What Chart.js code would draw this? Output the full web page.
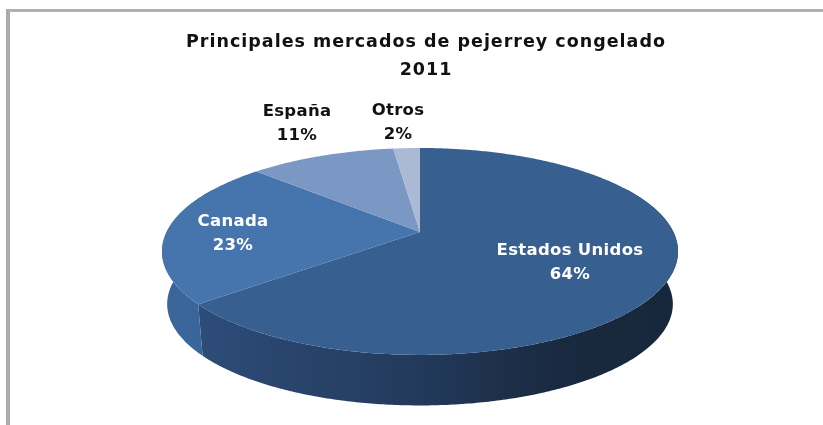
<!DOCTYPE html>
<html>
<head>
<meta charset="utf-8">
<script src="https://cdn.jsdelivr.net/npm/chart.js@4"></script>
<style>
  html, body { margin: 0; padding: 0; background: #fff; overflow: hidden; }
  #frame { position: absolute; left: 6px; top: 9px; right: 0; bottom: 0; border-left: 4px solid #ababab; border-top: 3px solid #b0b0b0; }
  #c { position: absolute; left: 0; top: 0; filter: blur(0.4px); }
</style>
</head>
<body>
<div id="frame"></div>
<canvas id="c" width="823" height="425"></canvas>
<script>
const titleLines = ['Principales mercados de pejerrey congelado', '2011'];
const categories = ['Estados Unidos', 'Canada', 'España', 'Otros'];
const shares = [64, 23, 11, 2];
const sliceColors = ['#375f8f', '#4674ad', '#7b97c3', '#abb9d5'];

// tilted disc: apex sits above the middle of the ellipse, like the excel 3d pie
const apexX = 420, apexY = 232, spanX = 253.4, spanY = 99.8, tilt = 0.188;
const depth = 53, lowerScale = 0.98;

// label centres, dark labels sit outside the pie
const labelSpots = [
    { x: 570, y: 251, color: '#fff' },
    { x: 233, y: 222, color: '#fff' },
    { x: 297, y: 112, color: '#111' },
    { x: 398, y: 111, color: '#111' }
];

function project(theta, lower) {
    const u = Math.sin(theta), v = -Math.cos(theta);
    const w = 1 - tilt * v;
    const x = spanX * u / w, y = spanY * v / w;
    if (!lower) return { x: apexX + x, y: apexY + y };
    return { x: apexX + x * lowerScale, y: apexY + y * lowerScale + depth };
}

function traceRim(ctx, from, to, lower) {
    const steps = Math.max(2, Math.ceil(Math.abs(to - from) / 0.01));
    for (let i = 0; i <= steps; i++) {
        const p = project(from + (to - from) * i / steps, lower);
        ctx.lineTo(p.x, p.y);
    }
}

function fillSide(ctx, from, to, fill) {
    ctx.beginPath();
    traceRim(ctx, from, to, false);
    traceRim(ctx, to, from, true);
    ctx.closePath();
    ctx.fillStyle = fill;
    ctx.fill();
}

const pie3d = {
    id: 'pie3d',
    beforeDraw(chart) {
        // the original text is stretched wide
        chart.ctx.letterSpacing = '1px';
    },
    beforeDatasetDraw(chart) {
        const ctx = chart.ctx;
        const arcs = chart.getDatasetMeta(0).data;
        const toTheta = a => a + Math.PI / 2;

        // side wall first, the top face covers what sticks out
        const usEnd = toTheta(arcs[0].endAngle);
        const usSide = ctx.createLinearGradient(200, 0, 676, 0);
        usSide.addColorStop(0, '#2d4c78');
        usSide.addColorStop(0.45, '#233a5c');
        usSide.addColorStop(0.75, '#192a40');
        usSide.addColorStop(1, '#17273b');
        fillSide(ctx, Math.PI * 0.35, usEnd, usSide);
        const caSide = ctx.createLinearGradient(163, 0, 203, 0);
        caSide.addColorStop(0, '#3b6699');
        caSide.addColorStop(1, '#3a659b');
        fillSide(ctx, usEnd, Math.PI * 1.65, caSide);

        arcs.forEach((arc, i) => {
            ctx.beginPath();
            ctx.moveTo(apexX, apexY);
            traceRim(ctx, toTheta(arc.startAngle), toTheta(arc.endAngle), false);
            ctx.closePath();
            ctx.fillStyle = sliceColors[i];
            ctx.fill();
        });

        ctx.save();
        ctx.letterSpacing = '0.3px';
        ctx.textAlign = 'center';
        ctx.textBaseline = 'middle';
        ctx.font = 'bold 16.5px "DejaVu Sans"';
        categories.forEach((name, i) => {
            const spot = labelSpots[i];
            ctx.fillStyle = spot.color;
            ctx.fillText(name, spot.x, spot.y);
            ctx.fillText(shares[i] + '%', spot.x, spot.y + 24);
        });
        ctx.restore();
        return false;
    }
};

new Chart(document.getElementById('c').getContext('2d'), {
    type: 'pie',
    data: {
        labels: categories,
        datasets: [{ data: shares, backgroundColor: sliceColors, borderWidth: 0 }]
    },
    options: {
        responsive: false,
        animation: false,
        layout: { padding: { left: 29 } },
        plugins: {
            legend: { display: false },
            tooltip: { enabled: false },
            title: {
                display: true,
                text: titleLines,
                color: '#111',
                padding: { top: 29, bottom: 0 },
                font: { family: '"DejaVu Sans"', size: 17.5, weight: 'bold', lineHeight: 1.57 }
            }
        }
    },
    plugins: [pie3d]
});
</script>
</body>
</html>
